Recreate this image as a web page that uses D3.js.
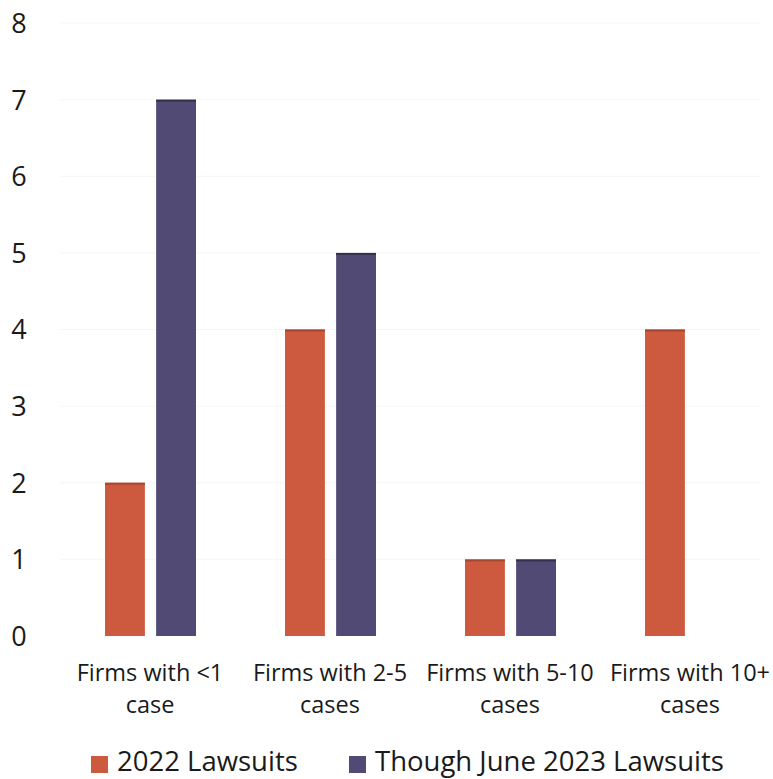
<!DOCTYPE html>
<html><head><meta charset="utf-8">
<script src="https://cdn.jsdelivr.net/npm/d3@7/dist/d3.min.js"></script>
<style>body{margin:0;background:#fff}svg{display:block}</style>
</head><body>
<svg id="c" width="773" height="779"></svg>
<script>
const categories = [["Firms with <1","case"],["Firms with 2-5","cases"],["Firms with 5-10","cases"],["Firms with 10+","cases"]];
const seriesNames = ["2022 Lawsuits","Though June 2023 Lawsuits"];
const series2022 = [2,4,1,4];
const series2023 = [7,5,1,0];
const yTicks = [0,1,2,3,4,5,6,7,8];
const colors = ["#cd5a3e","#514a74"];
const edge = ["#a8472f","#36304f"];

const svg = d3.select("#c");
const font = "'Open Sans', sans-serif";
const y = d3.scaleLinear().domain([0,8]).range([636,23]);
const x0 = d3.scaleBand().domain(d3.range(categories.length)).range([60,780]).padding(0);
const x1 = d3.scaleBand().domain([0,1]).range([45,136]).paddingInner(0.22);

// faint gridlines
svg.append("g").selectAll("line").data(yTicks.slice(1)).join("line")
  .attr("x1",60).attr("x2",760).attr("y1",d=>y(d)).attr("y2",d=>y(d))
  .attr("stroke","#f6f6f6").attr("stroke-width",1);

const yAxis = d3.axisLeft(y).tickValues(yTicks).tickSize(0).tickFormat(d3.format("d"));
const ga = svg.append("g").attr("transform","translate(30,0)").call(yAxis);
ga.select(".domain").remove();
ga.selectAll("text").attr("font-family",font).attr("font-size",27).attr("fill","#1a1a1a").attr("text-anchor","middle").attr("dx",-8).attr("dy","0.35em");

const data = categories.map((c,i)=>[series2022[i],series2023[i]]);
const g = svg.append("g").selectAll("g").data(data).join("g")
  .attr("transform",(d,i)=>`translate(${x0(i)},0)`);
g.selectAll("rect").data(d=>d.map((v,k)=>({v,k}))).join("rect")
  .filter(d=>d.v>0)
  .attr("x",d=>x1(d.k)).attr("width",x1.bandwidth())
  .attr("y",d=>y(d.v)).attr("height",d=>y(0)-y(d.v))
  .attr("fill",d=>colors[d.k]);
g.selectAll("line.top").data(d=>d.map((v,k)=>({v,k})).filter(e=>e.v>0)).join("line")
  .attr("class","top")
  .attr("x1",d=>x1(d.k)).attr("x2",d=>x1(d.k)+x1.bandwidth())
  .attr("y1",d=>y(d.v)+1).attr("y2",d=>y(d.v)+1)
  .attr("stroke",d=>edge[d.k]).attr("stroke-width",2);

// category labels
const cl = svg.append("g").selectAll("text").data(categories).join("text")
  .attr("font-family",font).attr("font-size",23.5).attr("fill","#1a1a1a").attr("text-anchor","middle")
  .attr("x",(d,i)=>x0(i)+x0.bandwidth()/2).attr("y",681);
cl.selectAll("tspan").data(d=>d).join("tspan")
  .attr("x",function(){return this.parentNode.getAttribute("x");})
  .attr("dy",(d,i)=>i===0?0:32).text(d=>d);

// legend
const legX = [91,349];
const lg = svg.append("g").selectAll("g").data(seriesNames).join("g")
  .attr("transform",(d,i)=>`translate(${legX[i]},0)`);
lg.append("rect").attr("x",0).attr("y",756).attr("width",17).attr("height",17).attr("fill",(d,i)=>colors[i]);
lg.append("text").attr("x",26).attr("y",771).attr("font-family",font).attr("font-size",27.5).attr("fill","#1a1a1a").text(d=>d);
</script>
</body></html>
